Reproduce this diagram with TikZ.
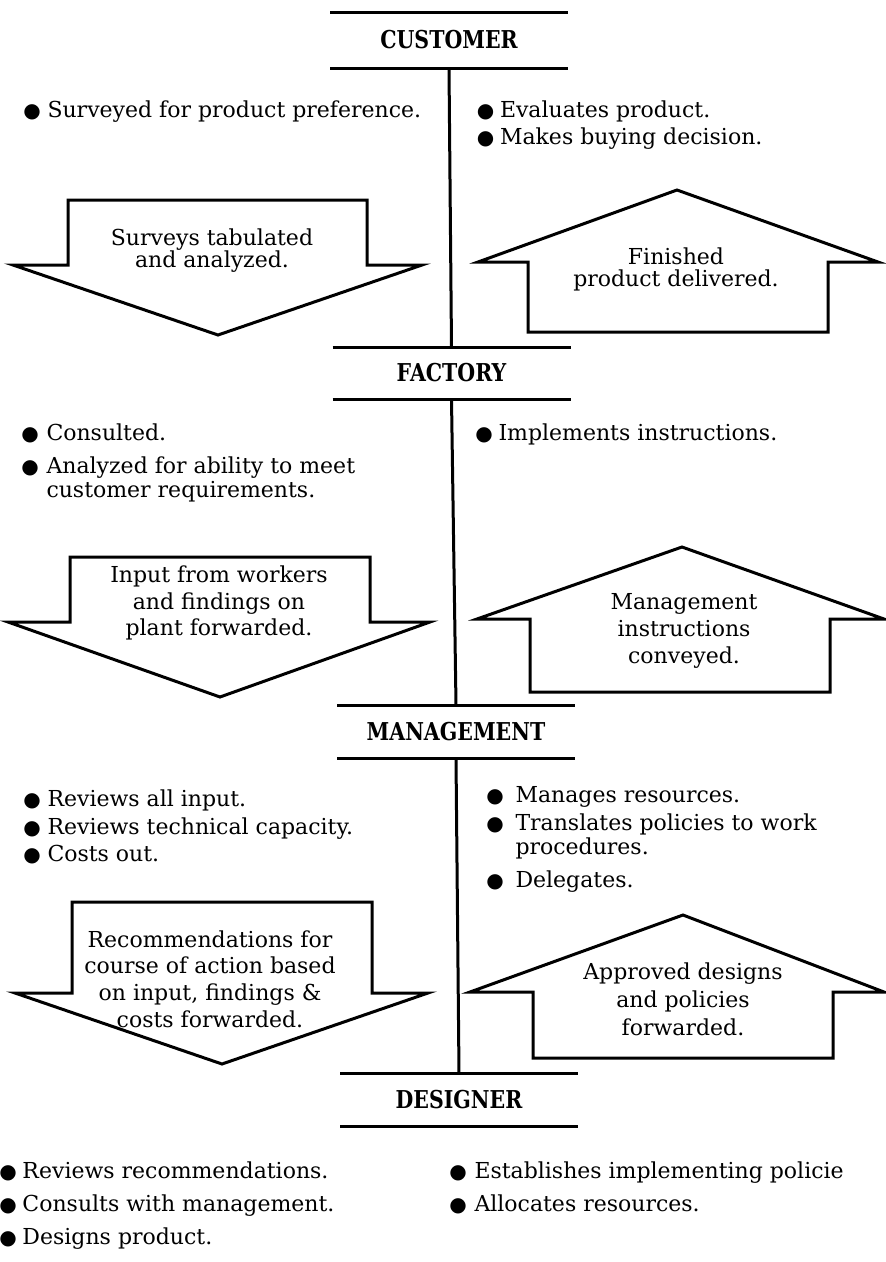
\documentclass[tikz,border=0pt]{standalone}
\usepackage{fontspec}
\setmainfont{DejaVu Serif}
\newfontfamily\headf{DejaVu Serif Bold}
\newfontfamily\symf{DejaVu Sans}
\newcommand\bul{\makebox[13pt][c]{\symf\fontsize{20}{22}\selectfont\char"25CF}}
\newcommand\blist[2]{\begin{tabular}[t]{@{}l@{\hspace{#1}}l@{}}#2\end{tabular}}
\newcommand\hd[1]{\scalebox{1}[1.2]{#1}}
\begin{document}
\begin{tikzpicture}[x=1pt,y=-1pt,
  rule/.style={line width=3pt},
  arr/.style={line width=3pt, line join=miter},
  head/.style={font=\headf\fontsize{20.5}{24}\selectfont, inner sep=0pt, outer sep=0pt, minimum width=238pt},
  body/.style={font=\fontsize{22}{24}\selectfont, inner sep=0pt, outer sep=0pt},
  lst/.style={body, anchor=base west, align=left},
  atext/.style={body, align=center}
]
\useasboundingbox (0,0) rectangle (886,1262);
\fill[white] (0,0) rectangle (886,1262);

% headings
\node[head, minimum height=56pt] (cust) at (449,40) {\hd{CUSTOMER}};
\node[head, minimum height=52pt] (fact) at (451.5,373) {\hd{FACTORY}};
\node[head, minimum height=53pt] (mgmt) at (456,731.5) {\hd{MANAGEMENT}};
\node[head, minimum height=53pt] (desi) at (459,1099.5) {\hd{DESIGNER}};
\foreach \n in {cust,fact,mgmt,desi}{
  \draw[rule] (\n.north west) -- (\n.north east);
  \draw[rule] (\n.south west) -- (\n.south east);
}
\draw[rule] (cust.south) -- (fact.north);
\draw[rule] (fact.south) -- (mgmt.north);
\draw[rule] (mgmt.south) -- (desi.north);

% block arrows
\draw[arr] (68,200) -- (367,200) -- (367,265) -- (422,265) -- (218,335) -- (13,265) -- (68,265) -- cycle;
\draw[arr] (70,557) -- (370,557) -- (370,622) -- (430,622) -- (220,697) -- (8,622) -- (70,622) -- cycle;
\draw[arr] (72,902) -- (372,902) -- (372,993) -- (428,993) -- (222,1064) -- (15,993) -- (72,993) -- cycle;
\draw[arr] (528,332) -- (528,262) -- (478,262) -- (677,190) -- (878,262) -- (828,262) -- (828,332) -- cycle;
\draw[arr] (530,692) -- (530,619) -- (477,619) -- (682,547) -- (884,619) -- (830,619) -- (830,692) -- cycle;
\draw[arr] (533,1058) -- (533,992) -- (470,992) -- (683,915) -- (884,992) -- (833,992) -- (833,1058) -- cycle;

% arrow texts
\node[atext, font=\fontsize{22}{22}\selectfont] (t1) at (212,251) {Surveys tabulated\\and analyzed.};
\node[atext, font=\fontsize{22}{26.5}\selectfont] (t2) at (219,603) {Input from workers\\and findings on\\plant forwarded.};
\node[atext, font=\fontsize{22}{26.7}\selectfont] (t3) at (210,979) {Recommendations for\\course of action based\\on input, findings \&\\costs forwarded.};
\node[atext, font=\fontsize{22}{22}\selectfont] (t4) at (676,269) {Finished\\product delivered.};
\node[atext, font=\fontsize{22}{27}\selectfont] (t5) at (684,631) {Management\\instructions\\conveyed.};
\node[atext, font=\fontsize{22}{28}\selectfont] (t6) at (683,999) {Approved designs\\and policies\\forwarded.};

% bullet lists
\node[lst] (l1) at (25.5,117) {\blist{9pt}{\bul & Surveyed for product preference.}};
\node[lst] (r1) at (479,117) {\blist{8pt}{\bul & Evaluates product.\\[3pt] \bul & Makes buying decision.}};
\node[lst] (l2) at (23.5,440) {\blist{10pt}{\bul & Consulted.\\[9pt] \bul & Analyzed for ability to meet\\ & customer requirements.}};
\node[lst] (r2) at (477.5,440) {\blist{8pt}{\bul & Implements instructions.}};
\node[lst] (l3) at (25.5,806) {\blist{9pt}{\bul & Reviews all input.\\[4pt] \bul & Reviews technical capacity.\\[3pt] \bul & Costs out.}};
\node[lst] (r3) at (488.5,802) {\blist{14pt}{\bul & Manages resources.\\[4pt] \bul & Translates policies to work\\ & procedures.\\[9pt] \bul & Delegates.}};
\node[lst] (l4) at (1.5,1178) {\blist{8pt}{\bul & Reviews recommendations.\\[9pt] \bul & Consults with management.\\[9pt] \bul & Designs product.}};
\node[lst] (r4) at (451.5,1178) {\blist{10pt}{\bul & Establishes implementing policie\\[9pt] \bul & Allocates resources.}};
\end{tikzpicture}
\end{document}
